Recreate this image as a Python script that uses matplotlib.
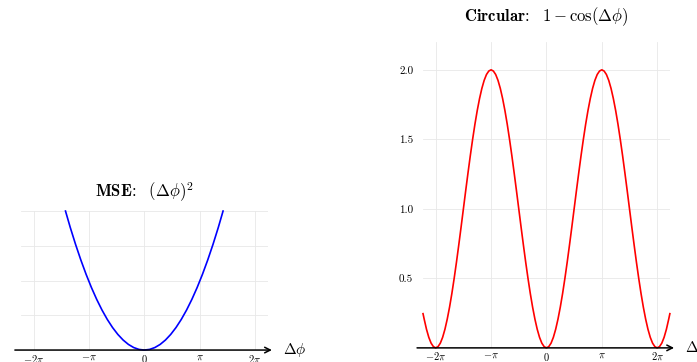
import numpy as np
import matplotlib
matplotlib.use("Agg")
import matplotlib.pyplot as plt

plt.rcParams["mathtext.fontset"] = "cm"
plt.rcParams["font.family"] = "serif"
plt.rcParams["font.serif"] = ["cmr10", "DejaVu Serif"]
plt.rcParams["axes.unicode_minus"] = False

# MSE curve, phase difference in radians
mse_phase = [-4.47, -4.2, -3.9, -3.6, -3.3, -3.0, -2.7, -2.4, -2.1, -1.8, -1.5,
             -1.2, -0.9, -0.6, -0.3, 0.0, 0.3, 0.6, 0.9, 1.2, 1.5, 1.8, 2.1,
             2.4, 2.7, 3.0, 3.3, 3.6, 3.9, 4.2, 4.47]
mse_loss = [20.0, 17.64, 15.21, 12.96, 10.89, 9.0, 7.29, 5.76, 4.41, 3.24, 2.25,
            1.44, 0.81, 0.36, 0.09, 0.0, 0.09, 0.36, 0.81, 1.44, 2.25, 3.24, 4.41,
            5.76, 7.29, 9.0, 10.89, 12.96, 15.21, 17.64, 20.0]

# circular curve, phase difference in units of pi/24
circ_phase = [-53.5, -53, -52, -51, -50, -49, -48, -47, -46, -45, -44, -43, -42,
              -41, -40, -39, -38, -37, -36, -35, -34, -33, -32, -31, -30, -29,
              -28, -27, -26, -25, -24, -23, -22, -21, -20, -19, -18, -17, -16,
              -15, -14, -13, -12, -11, -10, -9, -8, -7, -6, -5, -4, -3, -2, -1,
              0, 1, 2, 3, 4, 5, 6, 7, 8, 9, 10, 11, 12, 13, 14, 15, 16, 17, 18,
              19, 20, 21, 22, 23, 24, 25, 26, 27, 28, 29, 30, 31, 32, 33, 34, 35,
              36, 37, 38, 39, 40, 41, 42, 43, 44, 45, 46, 47, 48, 49, 50, 51, 52,
              53, 53.5]
circ_loss = [0.246, 0.207, 0.134, 0.076, 0.034, 0.009, 0.0, 0.009, 0.034, 0.076,
             0.134, 0.207, 0.293, 0.391, 0.5, 0.617, 0.741, 0.869, 1.0, 1.131,
             1.259, 1.383, 1.5, 1.609, 1.707, 1.793, 1.866, 1.924, 1.966, 1.991,
             2.0, 1.991, 1.966, 1.924, 1.866, 1.793, 1.707, 1.609, 1.5, 1.383,
             1.259, 1.131, 1.0, 0.869, 0.741, 0.617, 0.5, 0.391, 0.293, 0.207,
             0.134, 0.076, 0.034, 0.009,
             0.0, 0.009, 0.034, 0.076, 0.134, 0.207, 0.293, 0.391, 0.5, 0.617,
             0.741, 0.869, 1.0, 1.131, 1.259, 1.383, 1.5, 1.609, 1.707, 1.793,
             1.866, 1.924, 1.966, 1.991, 2.0, 1.991, 1.966, 1.924, 1.866, 1.793,
             1.707, 1.609, 1.5, 1.383, 1.259, 1.131, 1.0, 0.869, 0.741, 0.617,
             0.5, 0.391, 0.293, 0.207, 0.134, 0.076, 0.034, 0.009, 0.0, 0.009,
             0.034, 0.076, 0.134, 0.207, 0.246]

xtick_pi = [-2, -1, 0, 1, 2]
xtick_labels = [r"$-2\pi$", r"$-\pi$", r"$0$", r"$\pi$", r"$2\pi$"]
mse_grid = [5, 10, 15, 20]
circ_yticks = [0.5, 1.0, 1.5, 2.0]
circ_ylabels = ["0.5", "1.0", "1.5", "2.0"]

fig = plt.figure(figsize=(6.97, 3.62), dpi=100)
ax1 = fig.add_axes([0.030, 0.033, 0.354, 0.384])
ax2 = fig.add_axes([0.607, 0.039, 0.354, 0.845])


def style_axes(axes, ylim):
    axes.set_xlim(-7, 7)
    axes.set_ylim(*ylim)
    for s in axes.spines.values():
        s.set_visible(False)
    axes.set_xticks(np.array(xtick_pi) * np.pi)
    axes.set_xticklabels(xtick_labels, fontsize=7.5)
    axes.tick_params(length=0, pad=2)
    axes.grid(True, color="#e8e8e8", lw=0.6)
    axes.set_axisbelow(True)
    axes.annotate("", xy=(7.4, 0), xytext=(-7.5, 0),
                  arrowprops=dict(arrowstyle="->", lw=1.1, color="black"),
                  annotation_clip=False)
    axes.text(7.85, 0, r"$\Delta\phi$", fontsize=11, ha="left", va="center",
              clip_on=False)


style_axes(ax1, (0, 20))
ax1.set_yticks(mse_grid)
ax1.set_yticklabels([])
ax1.plot(mse_phase, mse_loss, color="#0000ff", lw=1.2, clip_on=False)
ax1.set_title(r"$\mathbf{MSE}\!\mathbf{:}\ \ (\Delta\phi)^2$", fontsize=12, pad=10)

style_axes(ax2, (0, 2.2))
ax2.set_yticks(circ_yticks)
ax2.set_yticklabels(circ_ylabels, fontsize=8)
ax2.tick_params(axis="y", pad=7)
ax2.plot(np.array(circ_phase) * np.pi / 24, circ_loss, color="#ff0000", lw=1.2,
         clip_on=False)
ax2.set_title(r"$\mathbf{Circular}\!\mathbf{:}\ \ 1-\cos(\Delta\phi)$",
              fontsize=12, pad=15)

fig.savefig("out.png", dpi=100)
